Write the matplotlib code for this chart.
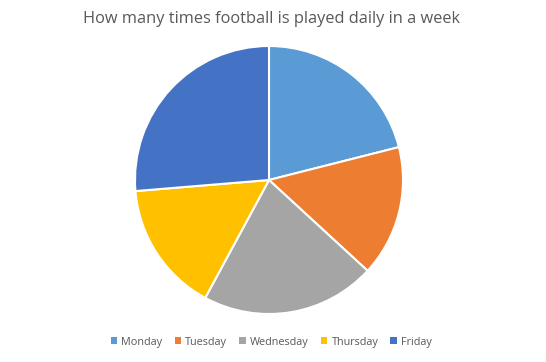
import matplotlib.pyplot as plt
from matplotlib.patches import Patch

# ── DATA ──────────────────────────────────────────────────────────────────────
days   = ['Monday', 'Tuesday', 'Wednesday', 'Thursday', 'Friday']
counts = [4, 3, 4, 3, 5]
colors = ['#5B9BD5', '#ED7D31', '#A5A5A5', '#FFC000', '#4472C4']

plt.rcParams['font.family'] = ['Open Sans', 'DejaVu Sans']

fig = plt.figure(figsize=(5.46, 3.62), dpi=100)
W, H = 546, 362
cx, cy, r = 269, 180, 134
ax = fig.add_axes([(cx - r) / W, (H - cy - r) / H, 2 * r / W, 2 * r / H])

ax.pie(counts, colors=colors, startangle=90, counterclock=False, radius=1,
       wedgeprops=dict(edgecolor='white', linewidth=1.5))
ax.set_xlim(-1.0, 1.0)
ax.set_ylim(-1.0, 1.0)
ax.set_aspect('equal')
ax.axis('off')

fig.text(0.497, 1 - 19 / H, 'How many times football is played daily in a week',
         ha='center', va='center', fontsize=11.8, color='#595959')

handles = [Patch(facecolor=c, edgecolor='none') for c in colors]
fig.legend(handles, days, loc='center', bbox_to_anchor=(0.497, 1 - 342 / H),
           ncol=5, frameon=False, fontsize=7.8, labelcolor='#595959',
           handlelength=0.6, handleheight=0.6, handletextpad=0.4,
           columnspacing=1.1)

fig.savefig('out.png', dpi=100, facecolor='white')
